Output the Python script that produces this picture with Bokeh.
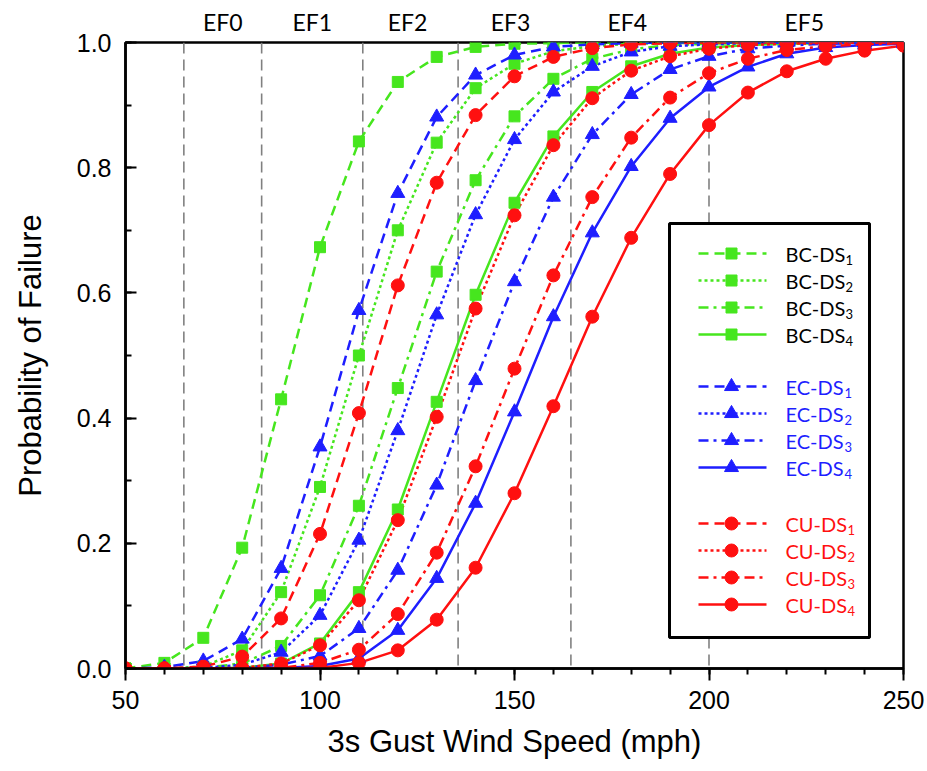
from bokeh.plotting import figure
from bokeh.models import (Range1d, LinearAxis, FixedTicker, Span, BoxAnnotation,
                          PrintfTickFormatter)
from bokeh.embed import file_html
from bokeh.resources import INLINE
from bokeh.core.properties import value

# ---------------- data ----------------
wind_speed = [50, 60, 70, 80, 90, 100, 110, 120, 130, 140, 150,
              160, 170, 180, 190, 200, 210, 220, 230, 240, 250]

bc_ds1 = [0.000, 0.009, 0.049, 0.193, 0.430, 0.673, 0.842, 0.937, 0.977, 0.993, 0.998,
          0.999, 1.000, 1.000, 1.000, 1.000, 1.000, 1.000, 1.000, 1.000, 1.000]
bc_ds2 = [0.000, 0.000, 0.003, 0.029, 0.122, 0.290, 0.500, 0.700, 0.840, 0.927, 0.966,
          0.986, 0.994, 0.998, 0.999, 1.000, 1.000, 1.000, 1.000, 1.000, 1.000]
bc_ds3 = [0.000, 0.000, 0.001, 0.008, 0.036, 0.117, 0.260, 0.448, 0.634, 0.780, 0.882,
          0.942, 0.974, 0.989, 0.996, 0.998, 0.999, 1.000, 1.000, 1.000, 1.000]
bc_ds4 = [0.000, 0.000, 0.000, 0.001, 0.008, 0.040, 0.122, 0.254, 0.426, 0.597, 0.744,
          0.850, 0.921, 0.962, 0.982, 0.992, 0.996, 0.998, 0.999, 1.000, 1.000]

ec_ds1 = [0.000, 0.002, 0.012, 0.047, 0.160, 0.354, 0.572, 0.759, 0.881, 0.948, 0.980,
          0.993, 0.997, 0.999, 1.000, 1.000, 1.000, 1.000, 1.000, 1.000, 1.000]
ec_ds2 = [0.000, 0.000, 0.001, 0.006, 0.026, 0.085, 0.205, 0.380, 0.565, 0.725, 0.845,
          0.921, 0.962, 0.985, 0.994, 0.997, 0.999, 1.000, 1.000, 1.000, 1.000]
ec_ds3 = [0.000, 0.000, 0.000, 0.001, 0.006, 0.020, 0.064, 0.157, 0.293, 0.460, 0.618,
          0.753, 0.853, 0.917, 0.957, 0.978, 0.990, 0.995, 0.998, 0.999, 1.000]
ec_ds4 = [0.000, 0.000, 0.000, 0.000, 0.001, 0.004, 0.016, 0.061, 0.144, 0.264, 0.410,
          0.562, 0.696, 0.802, 0.879, 0.929, 0.961, 0.982, 0.992, 0.996, 0.998]

cu_ds1 = [0.000, 0.000, 0.003, 0.019, 0.080, 0.215, 0.408, 0.612, 0.776, 0.884, 0.946,
          0.977, 0.991, 0.997, 0.999, 1.000, 1.000, 1.000, 1.000, 1.000, 1.000]
cu_ds2 = [0.000, 0.000, 0.000, 0.001, 0.008, 0.037, 0.109, 0.237, 0.402, 0.575, 0.724,
          0.836, 0.911, 0.955, 0.978, 0.990, 0.996, 0.998, 0.999, 1.000, 1.000]
cu_ds3 = [0.000, 0.000, 0.000, 0.000, 0.001, 0.009, 0.030, 0.087, 0.185, 0.323, 0.479,
          0.628, 0.753, 0.848, 0.912, 0.951, 0.974, 0.988, 0.994, 0.997, 0.999]
cu_ds4 = [0.000, 0.000, 0.000, 0.000, 0.000, 0.001, 0.009, 0.029, 0.078, 0.161, 0.280,
          0.419, 0.562, 0.688, 0.790, 0.868, 0.920, 0.954, 0.974, 0.987, 0.995]

ef_thresholds = [65, 85, 111, 135.5, 164.5, 200]
ef_labels = ["EF0", "EF1", "EF2", "EF3", "EF4", "EF5"]
ef_label_pos = [75, 98, 122.5, 149, 179, 224.5]

groups = ["BC", "EC", "CU"]
damage_states = ["1", "2", "3", "4"]
series = {
    "BC": [bc_ds1, bc_ds2, bc_ds3, bc_ds4],
    "EC": [ec_ds1, ec_ds2, ec_ds3, ec_ds4],
    "CU": [cu_ds1, cu_ds2, cu_ds3, cu_ds4],
}

# ---------------- styling ----------------
colors = {"BC": "#46E61E", "EC": "#1E1EFF", "CU": "#FF1010"}
text_colors = {"BC": "#000000", "EC": "#1E1EFF", "CU": "#FF1010"}
markers = {"BC": "square", "EC": "triangle", "CU": "circle"}
marker_sizes = {"BC": 11, "EC": 14, "CU": 13}
sub_offsets = {"BC": 60, "EC": 59, "CU": 62}
dashes = ["10 6", "3 3", "10 5 3 5", "solid"]

W, H = 927, 771
FL, FR, FT, FB = 125, 24, 42, 103
X0, X1, Y0, Y1 = 50, 250, 0.0, 1.0
FW, FH = W - FL - FR, H - FT - FB


def dx(px):
    return X0 + (px - FL) * (X1 - X0) / FW


def dy(py):
    return Y0 + (H - FB - py) * (Y1 - Y0) / FH


p = figure(width=W, height=H, x_range=Range1d(X0, X1), y_range=Range1d(Y0, Y1),
           output_backend="svg", toolbar_location=None,
           min_border_left=FL, min_border_right=FR, min_border_top=FT, min_border_bottom=FB,
           background_fill_color="white", border_fill_color="white")
p.grid.visible = False
p.outline_line_color = "black"
p.outline_line_width = 2.5
p.outline_line_alpha = 1.0

# axes
xa = p.xaxis[0]
xa.ticker = FixedTicker(ticks=[50, 100, 150, 200, 250],
                        minor_ticks=list(range(50, 251, 10)))
xa.axis_label = "3s Gust Wind Speed (mph)"
ya = p.yaxis[0]
ya.ticker = FixedTicker(ticks=[0.0, 0.2, 0.4, 0.6, 0.8, 1.0],
                        minor_ticks=[i / 10 for i in range(11)])
ya.formatter = PrintfTickFormatter(format="%.1f")
ya.axis_label = "Probability of Failure"
for ax in (xa, ya):
    ax.axis_line_color = "black"
    ax.axis_line_width = 2.5
    ax.major_tick_line_color = "black"
    ax.major_tick_line_width = 2
    ax.minor_tick_line_color = "black"
    ax.minor_tick_line_width = 2
    ax.major_label_text_font = "Liberation Sans"
    ax.major_label_text_font_size = "25px"
    ax.major_label_text_color = "black"
    ax.axis_label_text_font = "Liberation Sans"
    ax.axis_label_text_font_size = "31px"
    ax.axis_label_text_font_style = "normal"
    ax.axis_label_text_color = "black"
xa.major_tick_in, xa.major_tick_out = 0, 12
xa.minor_tick_in, xa.minor_tick_out = 0, 6
xa.major_label_standoff = 10
xa.axis_label_standoff = 12
ya.major_tick_in, ya.major_tick_out = 11, 0
ya.minor_tick_in, ya.minor_tick_out = 6, 0
ya.major_label_standoff = 14
ya.axis_label_standoff = 26

# EF category labels on a top axis
top = LinearAxis(ticker=FixedTicker(ticks=ef_label_pos),
                 major_label_overrides={pos: lab for pos, lab in zip(ef_label_pos, ef_labels)})
top.axis_line_color = None
top.major_tick_line_color = None
top.minor_tick_line_color = None
top.major_tick_out = 0
top.major_label_standoff = 7
top.major_label_text_font = "Lato"
top.major_label_text_font_size = "23px"
top.major_label_text_color = "black"
p.add_layout(top, "above")

# EF threshold lines
for xv in ef_thresholds:
    p.add_layout(Span(location=xv, dimension="height", line_color="#808080",
                      line_width=1.6, line_dash="11 6", level="underlay"))

# legend box (underlay so its entries draw over it)
p.add_layout(BoxAnnotation(left=dx(669), right=dx(869), top=dy(223), bottom=dy(637),
                           fill_color="white", fill_alpha=1.0, line_color="black",
                           line_alpha=1.0, line_width=3, level="underlay"))

# curves
for g in groups:
    for i, ds in enumerate(damage_states):
        ys = series[g][i]
        p.line(wind_speed, ys, line_color=colors[g], line_width=2.5, line_dash=dashes[i])
for g in groups:
    for i, ds in enumerate(damage_states):
        ys = series[g][i]
        p.scatter(wind_speed, ys, marker=markers[g], size=marker_sizes[g],
                  fill_color=colors[g], line_color=colors[g])

# legend entries (drawn by hand for coloured labels with subscripts)
row_start = {"BC": 253, "EC": 386, "CU": 523}
row_step = 27
for g in groups:
    for i, ds in enumerate(damage_states):
        ry = dy(row_start[g] + i * row_step)
        p.line([dx(698), dx(766)], [ry, ry], line_color=colors[g], line_width=2.5,
               line_dash=dashes[i])
        p.scatter([dx(731)], [ry], marker=markers[g], size=marker_sizes[g],
                  fill_color=colors[g], line_color=colors[g])
        p.text([dx(785)], [ry], text=[g + "-DS"], text_font=value("Lato"),
               text_font_size="20px", text_baseline="middle", text_align="left",
               text_color=text_colors[g])
        p.text([dx(785)], [ry], text=[ds], x_offset=sub_offsets[g], y_offset=6,
               text_font=value("Lato"), text_font_size="13px", text_baseline="middle",
               text_align="left", text_color=text_colors[g])

open("out.html", "w").write(file_html(p, INLINE))
